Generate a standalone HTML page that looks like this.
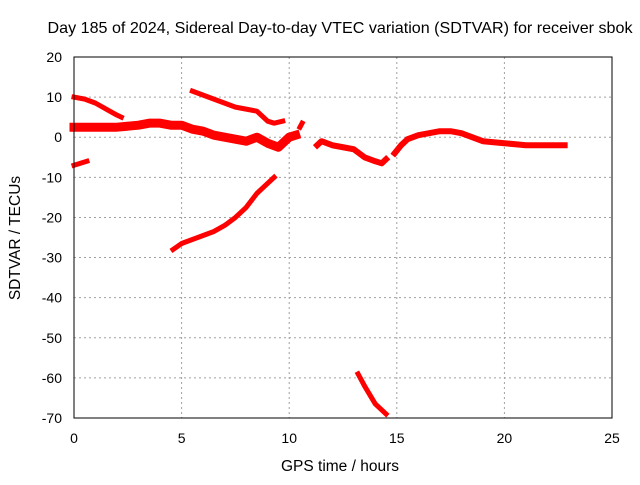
<!DOCTYPE html>
<html><head><meta charset="utf-8"><style>
body{margin:0;background:#fff}
svg{font-family:"Liberation Sans",sans-serif;font-size:14px}
</style></head><body>
<svg width="640" height="480">
<rect width="640" height="480" fill="#fff"/>
<g id="grid"></g>
<g id="series"></g>
<rect x="74" y="57" width="538" height="361" fill="none" stroke="#000" stroke-width="1"/>
<g id="ticks"></g>
<text x="340" y="33" text-anchor="middle" font-size="16" textLength="585" lengthAdjust="spacingAndGlyphs">Day 185 of 2024, Sidereal Day-to-day VTEC variation (SDTVAR) for receiver sbok</text>
<text x="340" y="471" text-anchor="middle" font-size="15.5">GPS time / hours</text>
<text transform="translate(20,238) rotate(-90)" text-anchor="middle" font-size="15.5">SDTVAR / TECUs</text>
</svg>
<script>
const xTicks=[0,5,10,15,20,25];
const yTicks=[20,10,0,-10,-20,-30,-40,-50,-60,-70];
const seg1=[[0,10],[0.5,9.5],[1,8.5],[1.5,7],[2,5.5],[2.2,5]];
const seg2=[[0,-7],[0.3,-6.5],[0.6,-6]];
const seg3=[[0,2.5],[1,2.5],[2,2.5],[3,3],[3.5,3.5],[4,3.5],[4.5,3],[5,3],[5.5,2],[6,1.5],[6.5,0.5],[7,0],[7.5,-0.5],[8,-1],[8.5,0],[9,-1.5],[9.5,-2.5],[10,0],[10.3,0.5]];
const seg4=[[5.5,11.5],[6,10.5],[6.5,9.5],[7,8.5],[7.5,7.5],[8,7],[8.5,6.5],[9,4],[9.3,3.5],[9.7,4]];
const seg5=[[10.5,2.5],[10.6,3.5]];
const seg6=[[4.6,-28],[5,-26.5],[5.5,-25.5],[6,-24.5],[6.5,-23.5],[7,-22],[7.5,-20],[8,-17.5],[8.5,-14],[9,-11.5],[9.3,-10]];
const seg7=[[11.3,-2],[11.5,-1],[12,-2],[12.5,-2.5],[13,-3],[13.5,-5],[14,-6],[14.3,-6.5],[14.5,-5.5]];
const seg8=[[13.2,-59],[13.5,-62],[14,-66.5],[14.5,-69]];
const seg9=[[14.9,-4],[15.2,-2],[15.5,-0.5],[16,0.5],[16.5,1],[17,1.5],[17.5,1.5],[18,1],[18.5,0],[19,-1],[20,-1.5],[21,-2],[22,-2],[22.8,-2]];
const segments=[seg1,seg2,seg3,seg4,seg5,seg6,seg7,seg8,seg9];
const widths=[5,5,9,5,5,5,6,5,6];
const NS="http://www.w3.org/2000/svg";
const X=v=>74+v*538/25, Y=v=>57+(20-v)*361/90;
const grid=document.getElementById('grid'),ticks=document.getElementById('ticks'),ser=document.getElementById('series');
function mk(tag,attrs,parent){const e=document.createElementNS(NS,tag);for(const k in attrs)e.setAttribute(k,attrs[k]);parent.appendChild(e);return e;}
xTicks.forEach(t=>{
 if(t>0&&t<25){const g=mk('line',{x1:X(t),x2:X(t),y1:57,y2:418,stroke:'#a0a0a0','stroke-dasharray':'2,3'},grid);
 
 }
 const l=mk('text',{x:X(t),y:443,'text-anchor':'middle'},ticks);l.textContent=t;
 
 
});
yTicks.forEach(t=>{
 if(t<20&&t>-70){const g=mk('line',{x1:74,x2:612,y1:Y(t),y2:Y(t),stroke:'#a0a0a0','stroke-dasharray':'2,3'},grid);
 
 }
 const l=mk('text',{x:62,y:Y(t)+5,'text-anchor':'end'},ticks);l.textContent=t;
 
 
});
segments.forEach((s,i)=>{
 const p=mk('polyline',{points:s.map(d=>X(d[0])+','+Y(d[1])).join(' '),fill:'none',stroke:'#ff0000','stroke-width':widths[i],'stroke-linejoin':'round','stroke-linecap':'square'},ser);
 
 
});
</script>
</body></html>
